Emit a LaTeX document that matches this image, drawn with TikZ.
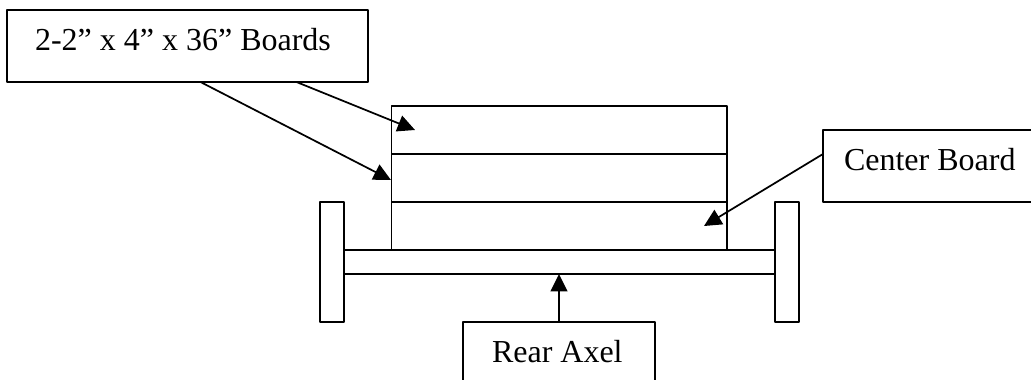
\documentclass[tikz,border=0pt]{standalone}
\usepackage{fontspec}
\setmainfont{Liberation Serif}
\usetikzlibrary{arrows.meta}
\usetikzlibrary{positioning}

\tikzset{
    part/.style={draw,rectangle,inner sep=0pt,outer sep=0pt},
    board/.style={part,minimum width=251.6pt,minimum height=36pt},
    wheel/.style={part,minimum width=18pt,minimum height=90pt},
    labelbox/.style={draw,rectangle,anchor=north west,align=flush left,outer sep=0pt,
        inner ysep=0pt,text height=30pt,text depth=24pt,
        font=\fontsize{24}{28}\selectfont},
}

\begin{document}
\begin{tikzpicture}[x=0.75pt,y=-0.75pt,node distance=0pt,line width=1.3pt,line join=round,
        >={Triangle[length=13pt,width=12.5pt]}]
        \clip (0,0) rectangle (1031,379);
        \node [board,anchor=north west] (upperboard) at (391.5,106) {};
        \node [board] (middleboard) [below=of upperboard] {};
        \node [board] (centerboard) [below=of middleboard] {};
        \node [part,minimum width=323.25pt,minimum height=18pt] (axle) [below=of centerboard] {};
        \node [wheel] (leftwheel) [left=of axle] {};
        \node [wheel] (rightwheel) [right=of axle] {};
        \node [labelbox,inner xsep=21pt,text width=228.75pt] (boardsbox) at (7,10) {2-2” x 4” x 36” Boards};
        \node [labelbox,inner xsep=15.75pt,text width=140pt] (centerbox) at (823,130) {Center Board};
        \node [labelbox,inner xsep=21.75pt,text width=100.5pt] (rearbox) at (463,322) {Rear Axel};
        \coordinate (uppertip) at (415,130);
        \coordinate (middletip) at (391,180);
        \coordinate (centertip) at (704,226);
        \path[->]
            ([xshift=81.75pt]boardsbox.south) edge (uppertip)
            ([xshift=9.75pt]boardsbox.south) edge (middletip)
            ([yshift=9pt]centerbox.west) edge (centertip)
            (rearbox.north) edge (rearbox.north |- axle.south);
    \end{tikzpicture}
\end{document}
